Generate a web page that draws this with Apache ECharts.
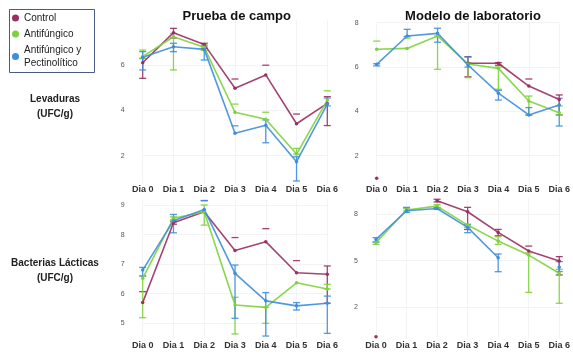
<!DOCTYPE html>
<html>
<head>
<meta charset="utf-8">
<script src="https://cdn.jsdelivr.net/npm/echarts@6/dist/echarts.min.js"></script>
<style>
  html, body { margin: 0; padding: 0; background: #ffffff; }
  #chart { width: 573px; height: 354px; }
</style>
</head>
<body>
<div id="chart"></div>
<script>
// Días de muestreo
const dias = ['Dia 0', 'Dia 1', 'Dia 2', 'Dia 3', 'Dia 4', 'Dia 5', 'Dia 6'];
const tratamientos = ['Control', 'Antifúngico', 'Antifúngico y\nPectinolítico'];
const colores = ['#9b2f63', '#7dd13a', '#3d8edf'];

// Levaduras – Prueba de campo (log UFC/g)
const levCampoControl = [6.11, 7.44, 6.92, 4.98, 5.57, 3.41, 4.31];
const levCampoAntif   = [6.38, 7.26, 6.79, 3.92, 3.61, 2.07, 4.46];
const levCampoPectin  = [6.35, 6.82, 6.70, 2.99, 3.34, 1.73, 4.28];
const levCampoControlErr = [[5.42, 6.30], [7.20, 7.63], [6.75, 6.97], [5.39, 5.39], [6.00, 6.00], [3.84, 3.84], [3.33, 4.61]];
const levCampoAntifErr   = [[6.30, 6.67], [5.79, 7.41], [6.65, 6.90], [4.28, 4.28], [3.92, 3.92], [2.07, 2.32], [4.87, 4.87]];
const levCampoPectinErr  = [[5.79, 6.60], [6.60, 6.97], [6.23, 6.85], [3.32, 3.32], [2.57, 3.58], [0.88, 1.95], [4.20, 4.55]];

// Levaduras – Modelo de laboratorio
const levLabControl = [0.98, null, null, 6.17, 6.17, 5.14, 4.54];
const levLabAntif   = [6.80, 6.84, 7.40, 6.14, 5.94, 4.47, 3.94];
const levLabPectin  = [6.12, 7.40, 7.52, 6.09, 4.82, 3.84, 4.29];
const levLabControlErr = [null, null, null, [5.56, 6.47], [6.08, 6.20], [5.46, 5.46], [3.84, 4.74]];
const levLabAntifErr   = [[7.17, 7.17], [7.30, 7.30], [5.90, 7.40], [5.52, 6.20], [5.00, 6.00], [3.84, 4.69], [3.85, 4.25]];
const levLabPectinErr  = [[6.05, 6.15], [7.38, 7.70], [7.12, 7.75], [6.00, 6.45], [4.51, 4.95], [3.83, 4.17], [3.34, 4.59]];

// Bacterias lácticas – Prueba de campo
const balCampoControl = [5.70, 8.40, 8.77, 7.46, 7.76, 6.71, 6.66];
const balCampoAntif   = [6.52, 8.55, 8.77, 5.62, 5.54, 6.37, 6.16];
const balCampoPectin  = [6.80, 8.47, 8.85, 6.69, 5.76, 5.59, 5.68];
const balCampoControlErr = [[6.07, 6.07], [8.35, 8.45], [9.15, 9.15], [7.90, 7.90], [8.20, 8.20], [7.12, 7.12], [5.68, 6.94]];
const balCampoAntifErr   = [[5.19, 6.60], [8.50, 8.60], [8.32, 9.00], [4.64, 5.88], [5.00, 5.54], null, [6.16, 6.32]];
const balCampoPectinErr  = [[6.60, 6.89], [8.06, 8.68], [9.15, 9.15], [5.17, 6.97], [4.57, 6.04], [5.45, 5.70], [4.66, 5.92]];

// Bacterias lácticas – Modelo de laboratorio
const balLabControl = [0.11, null, 8.86, 8.15, 6.82, 5.62, 4.98];
const balLabAntif   = [6.16, 8.26, 8.51, 7.29, 6.26, 5.36, 4.19];
const balLabPectin  = [6.37, 8.21, 8.36, 7.14, 5.19, null, 4.57];
const balLabControlErr = [null, null, [8.78, 8.95], [7.01, 8.43], [6.60, 7.01], [5.94, 5.94], [4.08, 5.26]];
const balLabAntifErr   = [[6.05, 6.20], [8.20, 8.35], [8.40, 8.60], [7.14, 7.35], [6.05, 6.54], [2.96, 5.50], [2.26, 4.44]];
const balLabPectinErr  = [[6.20, 6.48], [8.10, 8.43], [8.30, 8.42], [6.80, 7.30], [4.29, 5.43], null, [4.30, 4.94]];

// Etiquetas del eje Y de cada panel
const ticksLevCampo = [2, 4, 6];
const ticksLevLab   = [2, 4, 6, 8];
const ticksBalCampo = [5, 6, 7, 8, 9];
const ticksBalLab   = [2, 5, 8];

const paneles = [
  { grid: { left: 142.7, top: 20, width: 184.6, height: 163.9 }, min: 0.75, max: 8, ticks: ticksLevCampo, lblMargin: 1,
    lineas: [levCampoControl, levCampoAntif, levCampoPectin], errores: [levCampoControlErr, levCampoAntifErr, levCampoPectinErr] },
  { grid: { left: 376.7, top: 22.7, width: 186, height: 160.7 }, min: 0.75, max: 8, ticks: ticksLevLab, lblMargin: 1.5,
    lineas: [levLabControl, levLabAntif, levLabPectin], errores: [levLabControlErr, levLabAntifErr, levLabPectinErr] },
  { grid: { left: 142.7, top: 199.1, width: 184.6, height: 139 }, min: 4.5, max: 9.2, ticks: ticksBalCampo, lblMargin: 3,
    lineas: [balCampoControl, balCampoAntif, balCampoPectin], errores: [balCampoControlErr, balCampoAntifErr, balCampoPectinErr] },
  { grid: { left: 376, top: 198.5, width: 186.7, height: 139.9 }, min: 0, max: 9, ticks: ticksBalLab, lblMargin: 3,
    lineas: [balLabControl, balLabAntif, balLabPectin], errores: [balLabControlErr, balLabAntifErr, balLabPectinErr] }
];

// Barra de error: línea vertical con remates horizontales
function dibujarError(params, api) {
  const x = api.value(0);
  const lo = api.coord([x, api.value(1)]);
  const hi = api.coord([x, api.value(2)]);
  const w = 3.5;
  const style = { stroke: api.visual('color'), lineWidth: 1.3, opacity: 0.9 };
  const hijos = [];
  if (Math.abs(hi[1] - lo[1]) > 0.5) {
    hijos.push({ type: 'line', shape: { x1: lo[0], y1: lo[1], x2: hi[0], y2: hi[1] }, style });
    hijos.push({ type: 'line', shape: { x1: lo[0] - w, y1: lo[1], x2: lo[0] + w, y2: lo[1] }, style });
  }
  hijos.push({ type: 'line', shape: { x1: hi[0] - w, y1: hi[1], x2: hi[0] + w, y2: hi[1] }, style });
  return { type: 'group', children: hijos };
}

const grids = [], xAxes = [], yAxes = [], series = [];
paneles.forEach((p, i) => {
  grids.push(p.grid);
  xAxes.push({
    type: 'category', gridIndex: i, data: dias, boundaryGap: false,
    axisLine: { show: false }, axisTick: { show: false },
    axisLabel: { margin: p.lblMargin, fontFamily: 'Liberation Sans', fontWeight: 'bold', fontSize: 9, color: '#333' },
    splitLine: { show: true, lineStyle: { color: '#f3f3f3', width: 1 } }
  });
  yAxes.push({
    type: 'value', gridIndex: i, min: p.min, max: p.max,
    axisLine: { show: false },
    axisTick: { show: false, customValues: p.ticks },
    axisLabel: { customValues: p.ticks, margin: 18, fontFamily: 'Liberation Sans', fontSize: 7, color: '#555' },
    splitLine: { show: true, lineStyle: { color: '#f3f3f3', width: 1 } }
  });
  p.errores.forEach((err, k) => {
    const datos = [];
    err.forEach((e, d) => { if (e) datos.push([d, e[0], e[1]]); });
    series.push({
      type: 'custom', name: tratamientos[k], xAxisIndex: i, yAxisIndex: i,
      renderItem: dibujarError, data: datos, clip: false, z: 2,
      itemStyle: { color: colores[k] },
      encode: { x: 0, y: [1, 2] }, silent: true
    });
  });
  p.lineas.forEach((vals, k) => {
    series.push({
      type: 'line', name: tratamientos[k], xAxisIndex: i, yAxisIndex: i,
      data: vals, connectNulls: false, symbol: 'circle', symbolSize: 3.5, showSymbol: true,
      lineStyle: { width: 1.6, color: colores[k], opacity: 0.9 },
      itemStyle: { color: colores[k] }, z: 3, animation: false
    });
  });
});

const chart = echarts.init(document.getElementById('chart'), null, { renderer: 'canvas' });
chart.setOption({
  animation: false,
  backgroundColor: '#ffffff',
  grid: grids,
  xAxis: xAxes,
  yAxis: yAxes,
  series: series,
  title: [
    { text: 'Prueba de campo', left: 231.7, top: 5, textAlign: 'center',
      textStyle: { fontFamily: 'Liberation Sans', fontWeight: 'bold', fontSize: 13, color: '#111' } },
    { text: 'Modelo de laboratorio', left: 468, top: 5, textAlign: 'center',
      textStyle: { fontFamily: 'Liberation Sans', fontWeight: 'bold', fontSize: 13, color: '#111' } },
    { text: 'Levaduras\n(UFC/g)', left: 50, top: 87, textAlign: 'center',
      textStyle: { fontFamily: 'Liberation Sans', fontWeight: 'bold', fontSize: 10, lineHeight: 14.5, color: '#222', align: 'center' } },
    { text: 'Bacterias Lácticas\n(UFC/g)', left: 50, top: 251, textAlign: 'center',
      textStyle: { fontFamily: 'Liberation Sans', fontWeight: 'bold', fontSize: 10, lineHeight: 15, color: '#222', align: 'center' } }
  ],
  legend: {
    data: tratamientos, orient: 'vertical', left: 12, top: 11.5, padding: 0,
    itemGap: 3, itemWidth: 7, itemHeight: 7, icon: 'circle',
    selectedMode: false,
    textStyle: { fontFamily: 'Liberation Sans', fontSize: 10, lineHeight: 13, color: '#222', padding: [0, 0, 0, 0] }
  },
  graphic: [
    { type: 'rect', shape: { x: 9.5, y: 9.5, width: 85, height: 63 },
      style: { fill: null, stroke: '#4b5a85', lineWidth: 1 }, silent: true }
  ]
});
</script>
</body>
</html>
